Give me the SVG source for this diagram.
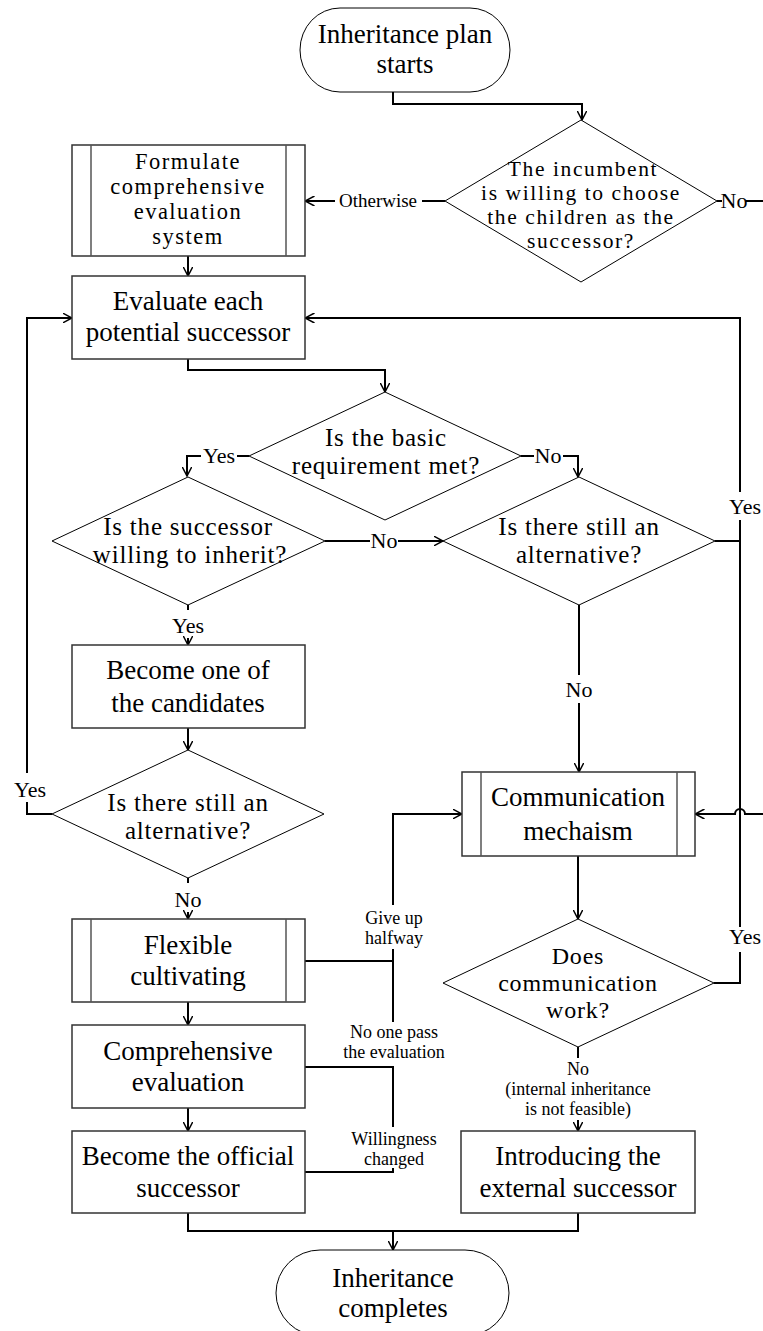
<svg xmlns="http://www.w3.org/2000/svg" width="763" height="1331" viewBox="0 0 763 1331">
<style>
.box{fill:#fff;stroke:#333;stroke-width:1.5}
.inner{stroke:#555;stroke-width:1.5}
.dia{fill:#fff;stroke:#000;stroke-width:1}
.term{fill:#fff;stroke:#000;stroke-width:1}
.conn{fill:none;stroke:#000;stroke-width:2}
text{font-family:"Liberation Serif","Times New Roman",serif;fill:#000;text-anchor:middle}
.t{font-size:27px}
.d{font-size:25px;letter-spacing:0.8px}
.d4{font-size:21.5px;letter-spacing:1.6px}
.f4{font-size:22.5px;letter-spacing:1.5px}
.d3{font-size:24px;letter-spacing:0.8px}
.l{font-size:22px}
.s{font-size:18px}
</style>
<defs>
<marker id="arr" viewBox="0 0 10 10" refX="9.5" refY="5" markerWidth="10" markerHeight="10" markerUnits="userSpaceOnUse" orient="auto">
<path d="M0,0 L9.5,5 L0,10" fill="none" stroke="#000" stroke-width="1.5"/>
</marker>
</defs>

<g id="connectors">
<path class="conn" d="M393,92 V104 H582 V120" marker-end="url(#arr)"/>
<path class="conn" d="M445,201 H422"/>
<path class="conn" d="M335,201 H305" marker-end="url(#arr)"/>
<path class="conn" d="M717,201 H722"/>
<path class="conn" d="M746,201 H763"/>
<path class="conn" d="M188,256 V276" marker-end="url(#arr)"/>
<path class="conn" d="M188,359 V370 H385 V392" marker-end="url(#arr)"/>
<path class="conn" d="M249,456 H237"/>
<path class="conn" d="M201,456 H187 V476" marker-end="url(#arr)"/>
<path class="conn" d="M521,456 H534"/>
<path class="conn" d="M563,456 H578 V477" marker-end="url(#arr)"/>
<path class="conn" d="M325,541 H370"/>
<path class="conn" d="M398,541 H443" marker-end="url(#arr)"/>
<path class="conn" d="M188,605 V610"/>
<path class="conn" d="M188,638 V645" marker-end="url(#arr)"/>
<path class="conn" d="M188,728 V750" marker-end="url(#arr)"/>
<path class="conn" d="M52,814 H27 V802"/>
<path class="conn" d="M27,773 V318 H72" marker-end="url(#arr)"/>
<path class="conn" d="M715,541 H740 V520"/>
<path class="conn" d="M740,492 V318 H305" marker-end="url(#arr)"/>
<path class="conn" d="M740,541 V927"/>
<path class="conn" d="M714,983 H740 V952"/>
<path class="conn" d="M579,605 V675"/>
<path class="conn" d="M579,703 V772" marker-end="url(#arr)"/>
<path class="conn" d="M763,814 H745 A5,5 0 0 0 735,814 H695" marker-end="url(#arr)"/>
<path class="conn" d="M188,878 V883"/>
<path class="conn" d="M188,912 V919" marker-end="url(#arr)"/>
<path class="conn" d="M188,1002 V1025" marker-end="url(#arr)"/>
<path class="conn" d="M188,1108 V1131" marker-end="url(#arr)"/>
<path class="conn" d="M393,905 V814 H462" marker-end="url(#arr)"/>
<path class="conn" d="M305,961 H393"/>
<path class="conn" d="M393,949 V1022"/>
<path class="conn" d="M305,1067 H393 V1127"/>
<path class="conn" d="M393,1168 V1172 H305"/>
<path class="conn" d="M578,856 V919" marker-end="url(#arr)"/>
<path class="conn" d="M578,1047 V1058"/>
<path class="conn" d="M578,1120 V1131" marker-end="url(#arr)"/>
<path class="conn" d="M188,1213 V1231 H578 V1213"/>
<path class="conn" d="M393,1231 V1250" marker-end="url(#arr)"/>
</g>

<g id="edge-labels">
<text class="s" x="378" y="207" style="font-size:19px">Otherwise</text>
<text class="l" x="734" y="208">No</text>
<text class="l" x="219" y="463">Yes</text>
<text class="l" x="548" y="463">No</text>
<text class="l" x="384" y="548">No</text>
<text class="l" x="188" y="633">Yes</text>
<text class="l" x="745" y="514">Yes</text>
<text class="l" x="30" y="797">Yes</text>
<text class="l" x="579" y="697">No</text>
<text class="l" x="188" y="907">No</text>
<text class="l" x="745" y="944">Yes</text>
<text class="s" x="394" y="924">Give up</text>
<text class="s" x="394" y="944">halfway</text>
<text class="s" x="394" y="1038">No one pass</text>
<text class="s" x="394" y="1058">the evaluation</text>
<text class="s" x="394" y="1145">Willingness</text>
<text class="s" x="394" y="1165">changed</text>
<text class="s" x="578" y="1075">No</text>
<text class="s" x="578" y="1095">(internal inheritance</text>
<text class="s" x="578" y="1115">is not feasible)</text>
</g>

<g id="start">
<rect class="term" x="300" y="8" width="210" height="84" rx="40" ry="42"/>
<text class="t" x="405" y="43">Inheritance plan</text>
<text class="t" x="405" y="73">starts</text>
</g>

<g id="d-incumbent">
<polygon class="dia" points="581,120 717,201 581,282 445,201"/>
<text class="d4" x="583" y="176">The incumbent</text>
<text class="d4" x="581" y="200">is willing to choose</text>
<text class="d4" x="581" y="224">the children as the</text>
<text class="d4" x="581" y="248">successor?</text>
</g>

<g id="formulate">
<rect class="box" x="72" y="145" width="233" height="111"/>
<line class="inner" x1="91" y1="145" x2="91" y2="256"/>
<line class="inner" x1="286" y1="145" x2="286" y2="256"/>
<text class="f4" x="188" y="169">Formulate</text>
<text class="f4" x="188" y="194">comprehensive</text>
<text class="f4" x="188" y="219">evaluation</text>
<text class="f4" x="188" y="244">system</text>
</g>

<g id="evaluate">
<rect class="box" x="72" y="276" width="233" height="83"/>
<text class="t" x="188" y="310">Evaluate each</text>
<text class="t" x="188" y="341">potential successor</text>
</g>

<g id="d-basic">
<polygon class="dia" points="385,392 521,456 385,520 249,456"/>
<text class="d" x="386" y="446">Is the basic</text>
<text class="d" x="386" y="474">requirement met?</text>
</g>

<g id="d-willing">
<polygon class="dia" points="188,477 325,541 188,605 52,541"/>
<text class="d" x="188" y="535">Is the successor</text>
<text class="d" x="190" y="563">willing to inherit?</text>
</g>

<g id="d-alt-right">
<polygon class="dia" points="579,477 715,541 579,605 443,541"/>
<text class="d" x="579" y="535">Is there still an</text>
<text class="d" x="579" y="563">alternative?</text>
</g>

<g id="candidates">
<rect class="box" x="72" y="645" width="233" height="83"/>
<text class="t" x="188" y="679">Become one of</text>
<text class="t" x="188" y="712">the candidates</text>
</g>

<g id="d-alt-left">
<polygon class="dia" points="188,750 324,814 188,878 52,814"/>
<text class="d" x="188" y="811">Is there still an</text>
<text class="d" x="188" y="839">alternative?</text>
</g>

<g id="communication">
<rect class="box" x="462" y="772" width="233" height="84"/>
<line class="inner" x1="481" y1="772" x2="481" y2="856"/>
<line class="inner" x1="677" y1="772" x2="677" y2="856"/>
<text class="t" x="578" y="806">Communication</text>
<text class="t" x="578" y="840">mechaism</text>
</g>

<g id="d-communication">
<polygon class="dia" points="578,919 714,983 578,1047 443,983"/>
<text class="d3" x="578" y="964">Does</text>
<text class="d3" x="578" y="991">communication</text>
<text class="d3" x="578" y="1018">work?</text>
</g>

<g id="flexible">
<rect class="box" x="72" y="919" width="233" height="83"/>
<line class="inner" x1="91" y1="919" x2="91" y2="1002"/>
<line class="inner" x1="286" y1="919" x2="286" y2="1002"/>
<text class="t" x="188" y="954">Flexible</text>
<text class="t" x="188" y="985">cultivating</text>
</g>

<g id="comprehensive">
<rect class="box" x="72" y="1025" width="233" height="83"/>
<text class="t" x="188" y="1060">Comprehensive</text>
<text class="t" x="188" y="1091">evaluation</text>
</g>

<g id="official">
<rect class="box" x="72" y="1131" width="233" height="82"/>
<text class="t" x="188" y="1165">Become the official</text>
<text class="t" x="188" y="1197">successor</text>
</g>

<g id="external">
<rect class="box" x="461" y="1131" width="234" height="82"/>
<text class="t" x="578" y="1165">Introducing the</text>
<text class="t" x="578" y="1197">external successor</text>
</g>

<g id="end">
<rect class="term" x="276" y="1250" width="233" height="86" rx="44" ry="43"/>
<text class="t" x="393" y="1287">Inheritance</text>
<text class="t" x="393" y="1317">completes</text>
</g>
</svg>
